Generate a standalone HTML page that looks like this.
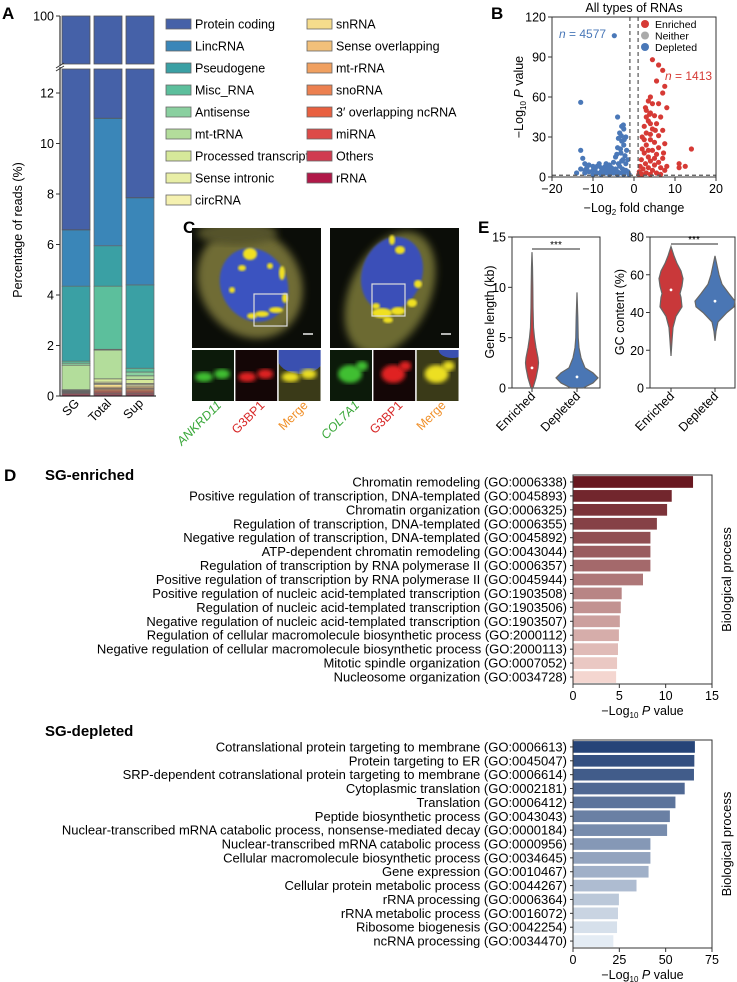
<!DOCTYPE html>
<html><head><meta charset="utf-8">
<style>
html,body{margin:0;padding:0;background:#fff;}
svg{display:block;font-family:"Liberation Sans",Arial,sans-serif;}
</style></head>
<body>
<svg id="fig" width="737" height="982" viewBox="0 0 737 982" xmlns="http://www.w3.org/2000/svg">
<defs>
<filter id="bl2"><feGaussianBlur stdDeviation="2"/></filter>
<filter id="bl4"><feGaussianBlur stdDeviation="4"/></filter>
<filter id="bl1"><feGaussianBlur stdDeviation="1"/></filter>
</defs>
<g id="pa"></g>
<g id="pb"></g>
<g id="pc"></g>
<g id="pe"></g>
<g id="pd"></g>
</svg>
<script>
// ---------- Panel A data ----------
const aCategories = ['SG','Total','Sup'];
const aTypes = ['rRNA','Others','miRNA','3\u2032 overlapping ncRNA','snoRNA','mt-rRNA','Sense overlapping','snRNA','circRNA','Sense intronic','Processed transcript','mt-tRNA','Antisense','Misc_RNA','Pseudogene','LincRNA','Protein coding'];
const aSG    = [0.05,0.05,0.03,0.02,0.02,0.01,0.01,0.01,0.01,0.01,0.03,0.97,0.08,0.08,2.97,2.23,93.42];
const aTotal = [0.05,0.05,0.05,0.05,0.05,0.05,0.05,0.10,0.05,0.05,0.13,1.14,0.03,2.50,1.60,5.05,89.0];
const aSup   = [0.05,0.05,0.05,0.05,0.05,0.05,0.05,0.05,0.05,0.05,0.15,0.15,0.15,0.15,3.30,3.45,92.15];
const aTicks = [0,2,4,6,8,10,12];
// ---------- Panel B data ----------
const bDepleted = [[-4.8,106],[-13,56],[-4,45],[-13,20],[-3,38],[-2.5,36],[-3.5,33],[-2,30],[-3,27],[-2.5,24],[-4,22],[-1.8,20],[-3.2,18],[-2.2,16],[-4.5,15],[-1.5,13],[-3,12],[-5,11],[-2,10],[-6,9],[-12.5,14],[-12,10],[-11,9],[-10,8],[-9,8],[-8,7],[-7,8],[-6.5,6],[-5.5,7],[-4.5,6],[-3.5,8],[-2.8,6],[-2,5],[-1.5,4],[-1.2,2],[-13,6],[-12,5],[-11,4],[-10,5],[-9,3],[-8,4],[-7,3],[-6,4],[-5,3],[-4,4],[-3,3],[-2.5,2],[-12,3],[-10,2],[-8,2],[-6,2],[-4,2],[-14,3],[-9.5,6],[-7.5,5],[-5.5,5],[-3.8,10],[-2.7,13],[-3.3,21],[-2.4,28],[-3.1,31],[-2.6,39],[-3.8,29],[-4.2,17],[-6.8,10],[-11.5,7],[-8.5,10]];
const bEnriched = [[4.5,88],[6,84],[7,80],[7.5,68],[5.5,72],[7,63],[4,60],[3.5,57],[4.5,55],[6,55],[8,52],[14,21],[11,10],[12.5,8],[11,7],[8,8],[3,50],[4,48],[5,46],[6.5,45],[3.5,42],[5.5,40],[2.5,38],[4.5,36],[7,35],[3,33],[6,31],[2,30],[4,28],[5,26],[7.5,25],[3,24],[6,22],[2,21],[4.5,20],[2.5,18],[5.5,17],[3.5,15],[7,14],[1.8,13],[4,12],[6,11],[2.8,10],[5,9],[1.5,8],[3.5,7],[6.5,7],[2.2,6],[4.5,5],[7.5,5],[1.3,4],[3,3],[5.5,3],[2,2],[4,2],[6.5,2],[1.2,2],[3,45],[4,40],[2.5,28],[3.5,20],[5,14],[4,32],[2.8,52],[3.8,47],[5.2,35],[7.2,18]];
const bXTicks = [-20,-10,0,10,20];
const bYTicks = [0,30,60,90,120];
// ---------- Panel E data ----------
const eLenLevels = [0,1,2,2.5,3,4,5,6,8,10,12,13.5];
const eLenEnrichedW = [1,4,6,6.5,6,4,2.5,1.5,1,0.8,0.5,0];
const eLenDepLevels = [0,0.5,1,1.5,2,3,4,5,7,9.5];
const eLenDepletedW = [6,16,21,16,8,4,2,1.2,0.8,0];
const eGcEnrLevels = [17,25,32,38,43,48,50,54,58,62,66,70,75];
const eGcEnrichedW = [0,1,2,5,11,10,9,11,12,10,6,3,0];
const eGcDepLevels = [25,30,35,40,43,46,50,55,60,65,70];
const eGcDepletedW = [0,1,3,12,19,20,14,7,4,2,0];
const eLenTicks = [0,5,10,15];
const eGcTicks = [0,20,40,60,80];
// ---------- Panel D data ----------
const dEnrTerms = ['Chromatin remodeling (GO:0006338)','Positive regulation of transcription, DNA-templated (GO:0045893)','Chromatin organization (GO:0006325)','Regulation of transcription, DNA-templated (GO:0006355)','Negative regulation of transcription, DNA-templated (GO:0045892)','ATP-dependent chromatin remodeling (GO:0043044)','Regulation of transcription by RNA polymerase II (GO:0006357)','Positive regulation of transcription by RNA polymerase II (GO:0045944)','Positive regulation of nucleic acid-templated transcription (GO:1903508)','Regulation of nucleic acid-templated transcription (GO:1903506)','Negative regulation of nucleic acid-templated transcription (GO:1903507)','Regulation of cellular macromolecule biosynthetic process (GO:2000112)','Negative regulation of cellular macromolecule biosynthetic process (GO:2000113)','Mitotic spindle organization (GO:0007052)','Nucleosome organization (GO:0034728)'];
const dEnrValues = [12.9,10.6,10.1,9.0,8.3,8.3,8.3,7.5,5.2,5.1,5.0,4.9,4.8,4.7,4.6];
const dEnrTicks = [0,5,10,15];
const dDepTerms = ['Cotranslational protein targeting to membrane (GO:0006613)','Protein targeting to ER (GO:0045047)','SRP-dependent cotranslational protein targeting to membrane (GO:0006614)','Cytoplasmic translation (GO:0002181)','Translation (GO:0006412)','Peptide biosynthetic process (GO:0043043)','Nuclear-transcribed mRNA catabolic process, nonsense-mediated decay (GO:0000184)','Nuclear-transcribed mRNA catabolic process (GO:0000956)','Cellular macromolecule biosynthetic process (GO:0034645)','Gene expression (GO:0010467)','Cellular protein metabolic process (GO:0044267)','rRNA processing (GO:0006364)','rRNA metabolic process (GO:0016072)','Ribosome biogenesis (GO:0042254)','ncRNA processing (GO:0034470)'];
const dDepValues = [65.5,65.2,65.0,60.0,55.0,52.0,50.5,41.5,41.5,40.5,34.0,24.5,24.0,23.5,21.5];
const dDepTicks = [0,25,50,75];

const NS='http://www.w3.org/2000/svg';
function mk(parent,tag,attrs,text){const e=document.createElementNS(NS,tag);for(const k in attrs)e.setAttribute(k,attrs[k]);if(text!==undefined)e.textContent=text;parent.appendChild(e);return e;}

// ================= Panel A =================
(function(){
const g=document.getElementById('pa');
const L=mk(g,'text',{x:2,y:19,'font-size':17,'font-weight':'bold'},'A');


const colors=['#b01848','#d03c50','#dd4a48','#e86040','#ec8050','#f0a060','#f2c07a','#f5dc8c','#f5f1b0','#e8eea6','#d6e89a','#b3dd9b','#8ad0a0','#5cbf9c','#3aa0a4','#3a86b8','#4561a8'];
const y0=396, k=25.25, lowTop=69, upTop=16, upBot=64;
const ylow=v=>y0-k*v;
const bx=[62,94,126], bw=28;
const series=[aSG,aTotal,aSup];
series.forEach((vals,bi)=>{
  let cum=0;
  vals.forEach((v,ti)=>{
    const lo=cum, hi=cum+v; cum=hi;
    if(ti===vals.length-1){
      const r1=mk(g,'rect',{x:bx[bi],y:lowTop,width:bw,height:ylow(lo)-lowTop,fill:colors[ti],stroke:'#555','stroke-width':0.8});
      
      
      const r2=mk(g,'rect',{x:bx[bi],y:upTop,width:bw,height:upBot-upTop,fill:colors[ti],stroke:'#555','stroke-width':0.8});
      
      
    } else {
      const r=mk(g,'rect',{x:bx[bi],y:ylow(hi),width:bw,height:Math.max(ylow(lo)-ylow(hi),0.3),fill:colors[ti],stroke:'#666','stroke-width':0.7});
      
      
    }
  });
  const t=mk(g,'text',{x:0,y:0,'font-size':12.5,'text-anchor':'end',transform:`translate(${bx[bi]+bw/2+4},${y0+8}) rotate(-45)`},aCategories[bi]);
  
  
});
mk(g,'line',{x1:60,y1:y0,x2:60,y2:lowTop-2,stroke:'#333','stroke-width':1.2});
mk(g,'line',{x1:60,y1:upTop,x2:60,y2:upBot+2,stroke:'#333','stroke-width':1.2});
mk(g,'line',{x1:60,y1:y0,x2:156,y2:y0,stroke:'#333','stroke-width':1.2});
mk(g,'line',{x1:56,y1:upBot+4,x2:64,y2:upBot-1,stroke:'#333','stroke-width':1});
mk(g,'line',{x1:56,y1:lowTop+2,x2:64,y2:lowTop-3,stroke:'#333','stroke-width':1});
aTicks.forEach(t=>{
  mk(g,'line',{x1:56,y1:ylow(t),x2:60,y2:ylow(t),stroke:'#333'});
  const tl=mk(g,'text',{x:54,y:ylow(t)+4.5,'font-size':12.5,'text-anchor':'end'},t);
  
  
});
mk(g,'line',{x1:56,y1:upTop,x2:60,y2:upTop,stroke:'#333'});
const t100=mk(g,'text',{x:54,y:upTop+4.5,'font-size':12.5,'text-anchor':'end'},'100');


const yt=mk(g,'text',{x:0,y:0,'font-size':12.5,'text-anchor':'middle',transform:'translate(22,230) rotate(-90)'},'Percentage of reads (%)');


const leg=aTypes.slice().reverse(), lc=colors.slice().reverse();
leg.forEach((n,i)=>{
  const col=i<9?0:1, row=i<9?i:i-9;
  const sx=col?307:166, ty=24+row*22;
  const sw=mk(g,'rect',{x:sx,y:ty-5,width:25,height:10,fill:lc[i],stroke:'#666','stroke-width':0.8});
  
  
  const tx=mk(g,'text',{x:sx+29,y:ty+4.5,'font-size':12.5},n);
  
  
});
})();

// ================= Panel B =================
(function(){
const g=document.getElementById('pb');
const L=mk(g,'text',{x:491,y:19,'font-size':17,'font-weight':'bold'},'B');


const X0=552,X1=716,Y0=177,Y1=17;
const sx=v=>X0+(v+20)/40*(X1-X0), sy=v=>Y0-(v/120)*(Y0-Y1);
const tt=mk(g,'text',{x:634,y:12,'font-size':12.5,'text-anchor':'middle'},'All types of RNAs');


bDepleted.forEach(p=>{const c=mk(g,'circle',{cx:sx(p[0]),cy:sy(p[1]),r:2.6,fill:'#4a78b8'});});
bEnriched.forEach(p=>{const c=mk(g,'circle',{cx:sx(p[0]),cy:sy(p[1]),r:2.6,fill:'#d63a35'});});
mk(g,'line',{x1:sx(-1),y1:Y1,x2:sx(-1),y2:Y0,stroke:'#555','stroke-dasharray':'4,3','stroke-width':1.2});
mk(g,'line',{x1:sx(1),y1:Y1,x2:sx(1),y2:Y0,stroke:'#555','stroke-dasharray':'4,3','stroke-width':1.2});
mk(g,'line',{x1:X0,y1:sy(1.3),x2:X1,y2:sy(1.3),stroke:'#555','stroke-dasharray':'4,3','stroke-width':1.2});
mk(g,'rect',{x:X0,y:Y1,width:X1-X0,height:Y0-Y1,fill:'none',stroke:'#333','stroke-width':1});
bXTicks.forEach(t=>{mk(g,'line',{x1:sx(t),y1:Y0,x2:sx(t),y2:Y0+4,stroke:'#333'});const e=mk(g,'text',{x:sx(t),y:Y0+16,'font-size':12.5,'text-anchor':'middle'},t<0?'\u2212'+(-t):t);});
bYTicks.forEach(t=>{mk(g,'line',{x1:X0-4,y1:sy(t),x2:X0,y2:sy(t),stroke:'#333'});const e=mk(g,'text',{x:X0-6,y:sy(t)+4.5,'font-size':12.5,'text-anchor':'end'},t);});
const xt=mk(g,'text',{x:634,y:212,'font-size':12.5,'text-anchor':'middle'});
xt.innerHTML='\u2212Log<tspan font-size="8" dy="3">2</tspan><tspan dy="-3"> fold change</tspan>';


const ytl=mk(g,'text',{x:0,y:0,'font-size':12.5,'text-anchor':'middle',transform:'translate(523,97) rotate(-90)'});
ytl.innerHTML='\u2212Log<tspan font-size="8" dy="3">10</tspan><tspan dy="-3"> </tspan><tspan font-style="italic">P</tspan> value';


const n1=mk(g,'text',{x:559,y:38,'font-size':12,fill:'#4a78b8'});n1.innerHTML='<tspan font-style="italic">n</tspan> = 4577';


const n2=mk(g,'text',{x:665,y:80,'font-size':12,fill:'#d63a35'});n2.innerHTML='<tspan font-style="italic">n</tspan> = 1413';


[['Enriched','#d63a35'],['Neither','#aaa'],['Depleted','#4a78b8']].forEach((d,i)=>{
  const c=mk(g,'circle',{cx:645,cy:24+i*11.5,r:4,fill:d[1]});
  
  
  const t=mk(g,'text',{x:655,y:28+i*11.5,'font-size':10.5},d[0]);
  
  
});
})();

// ================= Panel C =================
(function(){
const g=document.getElementById('pc');
const L=mk(g,'text',{x:183,y:233,'font-size':17,'font-weight':'bold'},'C');


function cell(x,y,w,h,variant){
  const im=mk(g,'g',{});
  
  
  const cp='c'+x;
  const d=mk(im,'clipPath',{id:cp});mk(d,'rect',{x:x,y:y,width:w,height:h});
  const gg=mk(im,'g',{'clip-path':`url(#${cp})`});
  mk(gg,'rect',{x:x,y:y,width:w,height:h,fill:'#0b0d08'});
  if(variant===0){
    mk(gg,'ellipse',{cx:x+58,cy:y+55,rx:50,ry:58,fill:'#6f6c35',filter:'url(#bl4)',transform:`rotate(-35 ${x+58} ${y+55})`});
    mk(gg,'ellipse',{cx:x+45,cy:y+5,rx:40,ry:12,fill:'#55522a',filter:'url(#bl4)'});
    mk(gg,'ellipse',{cx:x+62,cy:y+57,rx:33,ry:38,fill:'#3a52c0',filter:'url(#bl1)',transform:`rotate(-30 ${x+62} ${y+57})`});
    [[58,26,7,6],[50,40,4,3],[90,45,3,7],[84,82,7,3],[70,86,7,3],[60,88,5,3],[40,62,3,3],[93,70,3,5],[78,38,3,3]].forEach(b=>mk(gg,'ellipse',{cx:x+b[0],cy:y+b[1],rx:b[2],ry:b[3],fill:'#f0e020',filter:'url(#bl1)'}));
    mk(gg,'rect',{x:x+62,y:y+66,width:33,height:32,fill:'none',stroke:'#ddd','stroke-width':1.2});
  } else {
    mk(gg,'ellipse',{cx:x+60,cy:y+65,rx:40,ry:65,fill:'#6c6a33',filter:'url(#bl4)',transform:`rotate(25 ${x+60} ${y+65})`});
    mk(gg,'ellipse',{cx:x+62,cy:y+46,rx:30,ry:38,fill:'#3a50b8',filter:'url(#bl1)',transform:`rotate(20 ${x+62} ${y+46})`});
    [[62,12,3,5],[70,22,5,4],[52,85,10,5],[68,83,7,4],[82,75,5,4],[46,78,4,3],[88,56,4,4],[58,92,5,3]].forEach(b=>mk(gg,'ellipse',{cx:x+b[0],cy:y+b[1],rx:b[2],ry:b[3],fill:'#f0e020',filter:'url(#bl1)'}));
    mk(gg,'rect',{x:x+42,y:y+56,width:33,height:32,fill:'none',stroke:'#ddd','stroke-width':1.2});
  }
  mk(gg,'line',{x1:x+w-18,y1:y+h-14,x2:x+w-8,y2:y+h-14,stroke:'#eee','stroke-width':1.5});
}
function insets(x,y,variant){
  const cols=[['#0c1a0a','#3fbf30'],['#140606','#e02020'],['#3a3a18','#ecdf20']];
  for(let i=0;i<3;i++){
    const ix=x+i*43.3;
    const ig=mk(g,'g',{});
    
    
    const cp='ci'+x+i;
    const d=mk(ig,'clipPath',{id:cp});mk(d,'rect',{x:ix,y:y,width:42,height:51});
    const gg=mk(ig,'g',{'clip-path':`url(#${cp})`});
    mk(gg,'rect',{x:ix,y:y,width:42,height:51,fill:cols[i][0]});
    if(i===2) mk(gg,'ellipse',{cx:ix+(variant?36:22),cy:y+(variant?0:6),rx:variant?14:24,ry:variant?8:18,fill:'#3a50b0'});
    if(variant===0){
      mk(gg,'ellipse',{cx:ix+12,cy:y+27,rx:9,ry:5,fill:cols[i][1],filter:'url(#bl2)'});
      mk(gg,'ellipse',{cx:ix+30,cy:y+24,rx:8,ry:5,fill:cols[i][1],filter:'url(#bl2)'});
    } else {
      mk(gg,'ellipse',{cx:ix+20,cy:y+24,rx:12,ry:9,fill:cols[i][1],filter:'url(#bl2)'});
      mk(gg,'ellipse',{cx:ix+32,cy:y+16,rx:6,ry:5,fill:cols[i][1],filter:'url(#bl2)'});
    }
  }
}
cell(192,228,129,120,0); cell(330,228,129,120,1);
insets(192,350,0); insets(330,350,1);
const labs=[['ANKRD11','#3aa83a',true],['G3BP1','#d82a2a',false],['Merge','#f0902a',false]];
[192,330].forEach((x0,pi)=>{
  labs.forEach((l,i)=>{
    const txt=(i===0&&pi===1)?'COL7A1':l[0];
    const t=mk(g,'text',{x:0,y:0,'font-size':12.5,fill:l[1],'text-anchor':'end','font-style':l[2]?'italic':'normal',transform:`translate(${x0+i*43.3+30},${406}) rotate(-45)`},txt);
    
    
  });
});
})();

// ================= Panel E =================
(function(){
const g=document.getElementById('pe');
const L=mk(g,'text',{x:478,y:233,'font-size':17,'font-weight':'bold'},'E');


const Yb=388, Yt=237;
function axes(x0,x1,max,ticks,title,tx){
  const sy=v=>Yb-v/max*(Yb-Yt);
  mk(g,'rect',{x:x0,y:Yt,width:x1-x0,height:Yb-Yt,fill:'none',stroke:'#333','stroke-width':1});
  ticks.forEach(t=>{mk(g,'line',{x1:x0-4,y1:sy(t),x2:x0,y2:sy(t),stroke:'#333'});const e=mk(g,'text',{x:x0-6,y:sy(t)+4.5,'font-size':12.5,'text-anchor':'end'},t);});
  const yt=mk(g,'text',{x:0,y:0,'font-size':12.5,'text-anchor':'middle',transform:`translate(${tx},312) rotate(-90)`},title);
  
  
  return sy;
}
function violin(cx,levels,widths,sy,fill,name){
  let r='',l='';
  levels.forEach((v,i)=>{r+=(i?'L':'M')+(cx+widths[i])+','+sy(v);});
  for(let i=levels.length-1;i>=0;i--){l+='L'+(cx-widths[i])+','+sy(levels[i]);}
  const p=mk(g,'path',{d:r+l+'Z',fill:fill,stroke:'#666','stroke-width':1.2});
  
  
}
function xlabels(xs){
  ['Enriched','Depleted'].forEach((n,i)=>{
    mk(g,'line',{x1:xs[i],y1:Yb,x2:xs[i],y2:Yb+4,stroke:'#333'});
    const t=mk(g,'text',{x:0,y:0,'font-size':12.5,'text-anchor':'end',transform:`translate(${xs[i]+4},${Yb+9}) rotate(-45)`},n);
    
    
  });
}
const s1=axes(512,600,15,eLenTicks,'Gene length (kb)',494);
violin(532,eLenLevels,eLenEnrichedW,s1,'#c9383a','violin-enriched-length');
violin(577,eLenDepLevels,eLenDepletedW,s1,'#4a76b4','violin-depleted-length');
mk(g,'circle',{cx:532,cy:s1(2),r:1.4,fill:'#fff'});mk(g,'circle',{cx:577,cy:s1(1.1),r:1.4,fill:'#fff'});
mk(g,'line',{x1:532,y1:249,x2:580,y2:249,stroke:'#555','stroke-width':1.2});
const st1=mk(g,'text',{x:556,y:248,'font-size':10,'text-anchor':'middle'},'***');

xlabels([532,577]);
const s2=axes(650,735,80,eGcTicks,'GC content (%)',624);
violin(671,eGcEnrLevels,eGcEnrichedW,s2,'#c9383a','violin-enriched-gc');
violin(715,eGcDepLevels,eGcDepletedW,s2,'#4a76b4','violin-depleted-gc');
mk(g,'circle',{cx:671,cy:s2(52),r:1.4,fill:'#fff'});mk(g,'circle',{cx:715,cy:s2(46),r:1.4,fill:'#fff'});
mk(g,'line',{x1:671,y1:244,x2:718,y2:244,stroke:'#555','stroke-width':1.2});
const st2=mk(g,'text',{x:694,y:243,'font-size':10,'text-anchor':'middle'},'***');

xlabels([671,715]);
})();

// ================= Panel D =================
(function(){
const g=document.getElementById('pd');
const L=mk(g,'text',{x:4,y:481,'font-size':17,'font-weight':'bold'},'D');


function lerp(a,b,t){return a.map((v,i)=>Math.round(v+(b[i]-v)*t));}
function chart(terms,vals,ticks,max,x0,x1,top,bot,c0,c1,header,hy,prefix){
  const h=mk(g,'text',{x:45,y:hy,'font-size':15,'font-weight':'bold'},header);
  
  
  const sx=v=>x0+v/max*(x1-x0);
  const n=terms.length, step=(bot-top)/n, bh=step*0.84;
  mk(g,'rect',{x:x0,y:top,width:x1-x0,height:bot-top,fill:'none',stroke:'#333','stroke-width':1});
  terms.forEach((t,i)=>{
    const yc=top+step*(i+0.5);
    const col=lerp(c0,c1,i/(n-1));
    const r=mk(g,'rect',{x:x0+0.5,y:yc-bh/2,width:sx(vals[i])-x0,height:bh,fill:`rgb(${col})`});
    
    
    mk(g,'line',{x1:x0-3,y1:yc,x2:x0,y2:yc,stroke:'#333'});
    const tx=mk(g,'text',{x:x0-6,y:yc+4.5,'font-size':13,'text-anchor':'end'},t);
    
    
  });
  ticks.forEach(t=>{mk(g,'line',{x1:sx(t),y1:bot,x2:sx(t),y2:bot+4,stroke:'#333'});const e=mk(g,'text',{x:sx(t),y:bot+16,'font-size':12.5,'text-anchor':'middle'},t);});
  const xt=mk(g,'text',{x:x0+(x1-x0)/2,y:bot+31,'font-size':12.5,'text-anchor':'middle'});
  xt.innerHTML='\u2212Log<tspan font-size="8" dy="3">10</tspan><tspan dy="-3"> </tspan><tspan font-style="italic">P</tspan> value';
  
  
  const bp=mk(g,'text',{x:0,y:0,'font-size':13,'text-anchor':'middle',transform:`translate(731,${(top+bot)/2}) rotate(-90)`},'Biological process');
  
  
}
chart(dEnrTerms,dEnrValues,dEnrTicks,15,573,712,475,684,[104,24,32],[244,214,208],'SG-enriched',480,'enriched');
chart(dDepTerms,dDepValues,dDepTicks,75,573,712,740,948,[38,68,120],[228,236,244],'SG-depleted',736,'depleted');
})();
</script>
</body></html>
